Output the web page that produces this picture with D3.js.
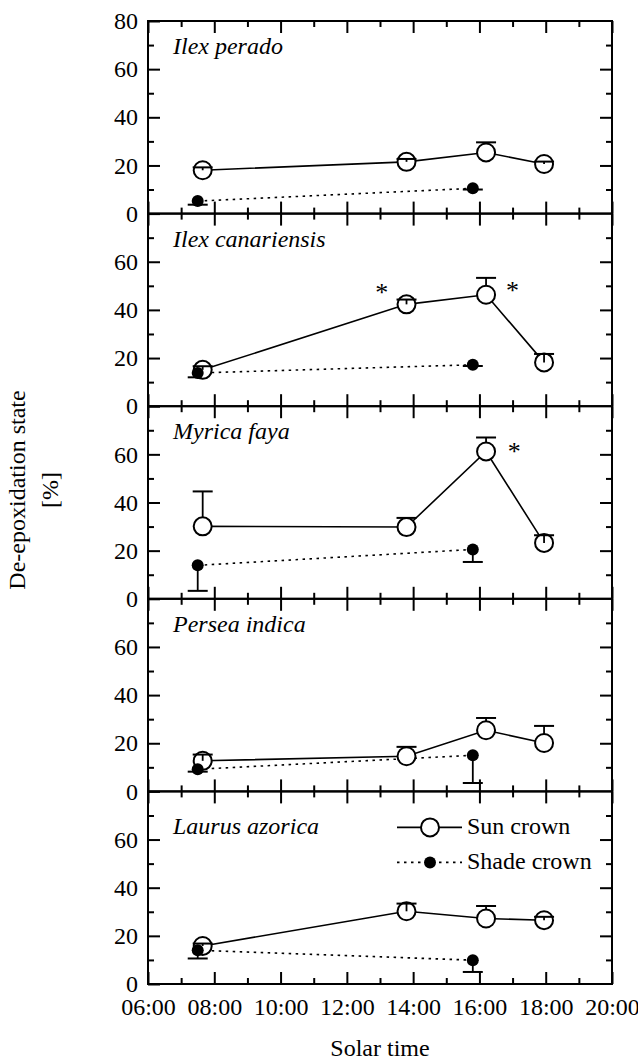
<!DOCTYPE html>
<html>
<head>
<meta charset="utf-8">
<script src="https://cdn.jsdelivr.net/npm/d3@7"></script>
<style>
  html, body { margin: 0; padding: 0; background: #fff; }
  svg { display: block; }
</style>
</head>
<body>
<svg id="chart" width="638" height="1060"></svg>
<script>
// ---------- data ----------
const species = ["Ilex perado", "Ilex canariensis", "Myrica faya", "Persea indica", "Laurus azorica"];
const sunTimes = [7.65, 13.8, 16.2, 17.95];       // hours (solar time)
const shadeTimes = [7.5, 15.8];
const sunValues = [
  [18.0, 21.5, 25.4, 20.6],
  [15.1, 42.3, 46.3, 18.2],
  [30.1, 29.8, 61.2, 23.2],
  [12.7, 14.6, 25.4, 20.1],
  [15.8, 30.2, 27.2, 26.5]
];
const sunErrors = [
  [1.2, 1.2, 4.2, 1.0],
  [1.5, 2.0, 7.0, 3.5],
  [14.5, 3.8, 5.8, 3.2],
  [2.6, 3.9, 5.1, 7.1],
  [1.0, 3.2, 5.2, 1.4]
];
const shadeValues = [
  [5.2, 10.5],
  [13.8, 17.2],
  [13.9, 20.5],
  [9.2, 15.0],
  [14.0, 9.9]
];
const shadeErrors = [
  [1.5, 0.5],
  [1.8, 0.5],
  [10.6, 5.2],
  [1.0, 11.5],
  [3.4, 4.9]
];
// significance asterisks: [panel index, time, value]
const asterisks = [
  [1, 13.05, 49.2],
  [1, 17.0, 50.0],
  [2, 17.05, 62.9]
];
const xTickValues = [6, 8, 10, 12, 14, 16, 18, 20];
const xTickLabels = ["06:00", "08:00", "10:00", "12:00", "14:00", "16:00", "18:00", "20:00"];
const xMinorTicks = [7, 9, 11, 13, 15, 17, 19];
const yTicksTop = [0, 20, 40, 60, 80];
const yTicksOther = [0, 20, 40, 60];
const yMinorTicks = [10, 30, 50, 70];
const legendLabels = ["Sun crown", "Shade crown"];
const yTitle = ["De-epoxidation state", "[%]"];
const xTitle = "Solar time";

// ---------- layout ----------
(function () {
const FONT = "Liberation Serif";
const svg = d3.select("#chart");
const mLeft = 148, mRight = 612, mTop = 21, mBottom = 984;
const nP = species.length;
const ph = (mBottom - mTop) / nP;
const majorLen = 12, minorLen = 6;
const rOpen = 9, rFill = 6, capHalf = 10;

const x = d3.scaleLinear().domain([6, 20]).range([mLeft, mRight]);

function txt(sel, size) {
  return sel.attr("font-family", FONT).attr("font-size", size).attr("fill", "#000");
}

species.forEach((name, i) => {
  const pTop = mTop + i * ph;
  const y = d3.scaleLinear().domain([0, 80]).range([pTop + ph, pTop]);
  const g = svg.append("g");

  const isBottom = i === nP - 1;
  const axB = g.append("g").attr("transform", `translate(0,${pTop + ph})`)
    .call(d3.axisBottom(x).tickValues(xTickValues).tickSize(-majorLen).tickPadding(14)
      .tickFormat((d, k) => isBottom ? xTickLabels[k] : ""));
  const axBm = g.append("g").attr("transform", `translate(0,${pTop + ph})`)
    .call(d3.axisBottom(x).tickValues(xMinorTicks).tickSize(-minorLen).tickFormat(""));
  const axT = g.append("g").attr("transform", `translate(0,${pTop})`)
    .call(d3.axisTop(x).tickValues(xTickValues).tickSize(-majorLen).tickFormat(""));
  const axTm = g.append("g").attr("transform", `translate(0,${pTop})`)
    .call(d3.axisTop(x).tickValues(xMinorTicks).tickSize(-minorLen).tickFormat(""));
  const axL = g.append("g").attr("transform", `translate(${mLeft},0)`)
    .call(d3.axisLeft(y).tickValues(i === 0 ? yTicksTop : yTicksOther).tickSize(-majorLen).tickPadding(10));
  const axLm = g.append("g").attr("transform", `translate(${mLeft},0)`)
    .call(d3.axisLeft(y).tickValues(yMinorTicks).tickSize(-minorLen).tickFormat(""));
  const axR = g.append("g").attr("transform", `translate(${mRight},0)`)
    .call(d3.axisRight(y).tickValues([20, 40, 60]).tickSize(-majorLen).tickFormat(""));
  const axRm = g.append("g").attr("transform", `translate(${mRight},0)`)
    .call(d3.axisRight(y).tickValues(yMinorTicks).tickSize(-minorLen).tickFormat(""));
  [axB, axBm, axT, axTm, axL, axLm, axR, axRm].forEach(a => {
    a.attr("font-family", FONT).attr("font-size", 24);
    a.select(".domain").remove();
    a.selectAll(".tick line").attr("stroke", "#000").attr("stroke-width", 2);
    txt(a.selectAll(".tick text"), 24);
  });

  g.append("rect").attr("x", mLeft).attr("y", pTop).attr("width", mRight - mLeft).attr("height", ph)
    .attr("fill", "none").attr("stroke", "#000").attr("stroke-width", 2);

  txt(g.append("text"), 24).attr("x", 173).attr("y", pTop + (isBottom ? 43 : 33))
    .attr("font-style", "italic").text(name);

  const sun = sunTimes.map((t, k) => ({ t, v: sunValues[i][k], e: sunErrors[i][k] }));
  const shade = shadeTimes.map((t, k) => ({ t, v: shadeValues[i][k], e: shadeErrors[i][k] }));

  const line = d3.line().x(d => x(d.t)).y(d => y(d.v));
  g.append("path").datum(shade).attr("d", line).attr("fill", "none")
    .attr("stroke", "#000").attr("stroke-width", 1.6).attr("stroke-dasharray", "2.5,4.5");
  g.append("path").datum(sun).attr("d", line).attr("fill", "none")
    .attr("stroke", "#000").attr("stroke-width", 1.6);

  function errBar(layer, d, dir) {
    const y0 = y(d.v), y1 = y(d.v + dir * d.e);
    layer.append("line").attr("x1", x(d.t)).attr("x2", x(d.t)).attr("y1", y0).attr("y2", y1)
      .attr("stroke", "#000").attr("stroke-width", 1.8);
    layer.append("line").attr("x1", x(d.t) - capHalf).attr("x2", x(d.t) + capHalf).attr("y1", y1).attr("y2", y1)
      .attr("stroke", "#000").attr("stroke-width", 2);
  }
  const under = g.append("g");
  const markers = g.append("g");
  const over = g.append("g");
  sun.forEach(d => {
    const px = Math.abs(y(d.v + d.e) - y(d.v));
    errBar(px < rOpen ? over : under, d, 1);
  });
  shade.forEach(d => errBar(under, d, -1));

  markers.selectAll("circle.sun").data(sun).join("circle").attr("class", "sun")
    .attr("cx", d => x(d.t)).attr("cy", d => y(d.v)).attr("r", rOpen)
    .attr("fill", "#fff").attr("stroke", "#000").attr("stroke-width", 2);
  markers.selectAll("circle.shade").data(shade).join("circle").attr("class", "shade")
    .attr("cx", d => x(d.t)).attr("cy", d => y(d.v)).attr("r", rFill)
    .attr("fill", "#000");

  asterisks.filter(a => a[0] === i).forEach(a => {
    txt(g.append("text"), 26).attr("x", x(a[1])).attr("y", y(a[2]) + 13).attr("text-anchor", "middle")
      .text("*");
  });

  if (isBottom) {
    const lg = g.append("g");
    const lx0 = 397, lx1 = 462, lmx = 430, tx = 467;
    const ly = [pTop + 36, pTop + 71];
    lg.append("line").attr("x1", lx0).attr("x2", lx1).attr("y1", ly[0]).attr("y2", ly[0])
      .attr("stroke", "#000").attr("stroke-width", 1.6);
    lg.append("circle").attr("cx", lmx).attr("cy", ly[0]).attr("r", rOpen)
      .attr("fill", "#fff").attr("stroke", "#000").attr("stroke-width", 2);
    lg.append("line").attr("x1", lx0).attr("x2", lx1).attr("y1", ly[1]).attr("y2", ly[1])
      .attr("stroke", "#000").attr("stroke-width", 1.6).attr("stroke-dasharray", "2.5,4.5");
    lg.append("circle").attr("cx", lmx).attr("cy", ly[1]).attr("r", rFill).attr("fill", "#000");
    legendLabels.forEach((t, k) => {
      txt(lg.append("text"), 24).attr("x", tx).attr("y", ly[k] + 7).text(t);
    });
  }
});

txt(svg.append("text"), 24).attr("x", 380).attr("y", 1056).attr("text-anchor", "middle").text(xTitle);
txt(svg.append("text"), 24).attr("transform", "translate(25,490) rotate(-90)").attr("text-anchor", "middle").text(yTitle[0]);
txt(svg.append("text"), 24).attr("transform", "translate(58,490) rotate(-90)").attr("text-anchor", "middle").text(yTitle[1]);
})();
</script>
</body>
</html>
